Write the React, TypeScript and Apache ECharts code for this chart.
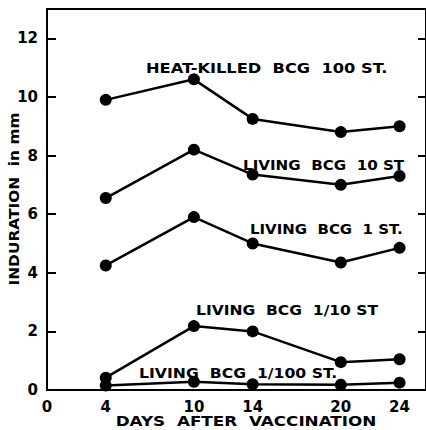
import React, { useEffect, useRef } from "react";
import * as echarts from "echarts";

const days = [4, 10, 14, 20, 24];
const heatKilled100 = [9.9, 10.6, 9.25, 8.8, 9.0];
const living10 = [6.55, 8.2, 7.35, 7.0, 7.3];
const living1 = [4.25, 5.9, 5.0, 4.35, 4.85];
const living1_10 = [0.42, 2.18, 2.0, 0.95, 1.05];
const living1_100 = [0.15, 0.28, 0.2, 0.18, 0.25];
const xTickLabels = [0, 4, 10, 14, 20, 24];
const seriesNames = [
  "HEAT-KILLED  BCG  100 ST.",
  "LIVING  BCG  10 ST",
  "LIVING  BCG  1 ST.",
  "LIVING  BCG  1/10 ST",
  "LIVING  BCG  1/100 ST.",
];
const xTitle = "DAYS  AFTER  VACCINATION";
const yTitle = "INDURATION  in mm";

export default function App() {
  const ref = useRef<HTMLDivElement>(null);
  useEffect(() => {
    if (!ref.current) return;
    const chart = echarts.init(ref.current, null, { renderer: "svg" });
    const font = "DejaVu Sans";
    const all = [heatKilled100, living10, living1, living1_10, living1_100];
    const labelPos = [
      [146, 68, 1.16],
      [243, 165, 1.08],
      [250, 229, 1.07],
      [196, 310, 1.11],
      [139, 373, 1.12],
    ];
    chart.setOption({
      animation: false,
      backgroundColor: "#fff",
      grid: {
        left: 47,
        top: 9,
        right: 0,
        bottom: 40,
        show: true,
        borderColor: "#000",
        borderWidth: 2,
        containLabel: false,
        outerBoundsMode: "none",
      },
      xAxis: {
        type: "value",
        min: 0,
        max: 25.8,
        axisLine: { show: true, onZero: false, lineStyle: { color: "#000", width: 2 } },
        axisTick: { show: false },
        splitLine: { show: false },
        axisLabel: {
          customValues: xTickLabels,
          color: "#000",
          fontFamily: font,
          fontWeight: "bold",
          fontSize: 15,
          margin: 9,
        },
      },
      yAxis: [
        {
          type: "value",
          min: 0,
          max: 13,
          interval: 2,
          axisLine: { show: true, lineStyle: { color: "#000", width: 2 } },
          axisTick: { show: true, inside: true, length: 9, lineStyle: { color: "#000", width: 2 } },
          splitLine: { show: false },
          axisLabel: {
            color: "#000",
            fontFamily: font,
            fontWeight: "bold",
            fontSize: 15,
            margin: 9,
            formatter: (v: number) => (v % 2 === 0 ? String(v) : ""),
          },
        },
        {
          type: "value",
          position: "right",
          min: 0,
          max: 13,
          interval: 2,
          axisLine: { show: true, lineStyle: { color: "#000", width: 2 } },
          axisTick: { show: true, inside: true, length: 8, lineStyle: { color: "#000", width: 2 } },
          splitLine: { show: false },
          axisLabel: { show: false },
        },
      ],
      series: all.map((vals, i) => ({
        type: "line",
        name: seriesNames[i],
        data: days.map((d, j) => [d, vals[j]]),
        symbol: "circle",
        symbolSize: 12,
        itemStyle: { color: "#000" },
        lineStyle: { color: "#000", width: 2.5 },
      })),
      graphic: [
        ...seriesNames.map((n, i) => ({
          type: "text",
          x: labelPos[i][0],
          y: labelPos[i][1],
          scaleX: labelPos[i][2],
          style: {
            text: n,
            fill: "#000",
            font: `bold 14px "${font}"`,
            textAlign: "left",
            textVerticalAlign: "middle",
          },
        })),
        {
          type: "text",
          x: 246,
          y: 421,
          scaleX: 1.2,
          style: {
            text: xTitle,
            fill: "#000",
            font: `bold 14px "${font}"`,
            textAlign: "center",
            textVerticalAlign: "middle",
          },
        },
        {
          type: "text",
          x: 14,
          y: 199,
          rotation: Math.PI / 2,
          scaleX: 1.1,
          style: {
            text: yTitle,
            fill: "#000",
            font: `bold 14px "${font}"`,
            textAlign: "center",
            textVerticalAlign: "middle",
          },
        },
      ],
    });
    return () => chart.dispose();
  }, []);
  return (
    <div
      ref={ref}
      style={{ position: "fixed", left: 0, top: 0, width: 426, height: 430 }}
    />
  );
}
